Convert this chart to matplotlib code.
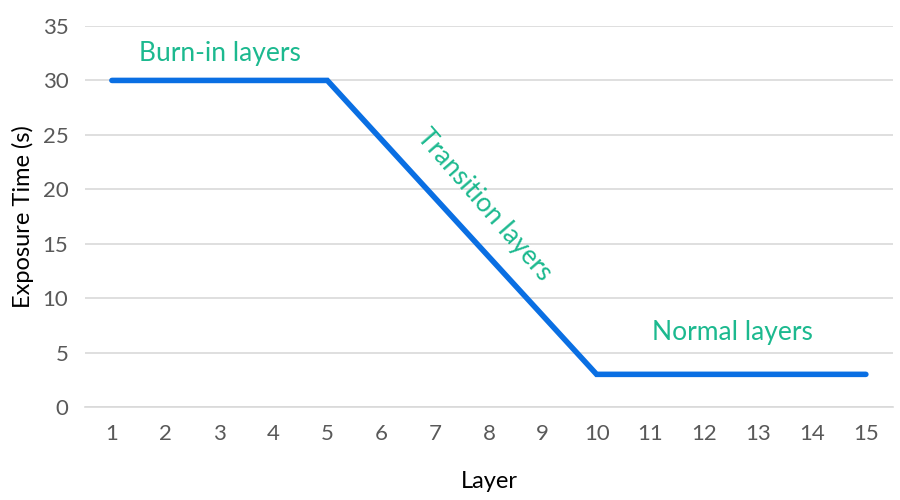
import matplotlib
matplotlib.use("Agg")
import matplotlib.pyplot as plt

### chart data
layers = list(range(1, 16))
exposure = [30, 30, 30, 30, 30, 24.6, 19.2, 13.8, 8.4, 3, 3, 3, 3, 3, 3]
y_ticks = [0, 5, 10, 15, 20, 25, 30, 35]

### colours
LINE = "#0A6FE3"
NOTE = "#1CB98F"
GREY = "#595959"
GRID = "#D9D9D9"

plt.rcParams["font.family"] = ["Lato", "DejaVu Sans"]

fig = plt.figure(figsize=(9, 5), dpi=100)
ax = fig.add_axes([0.0944, 0.186, 0.8976, 0.762])

ax.plot(layers, exposure, color=LINE, lw=4, solid_capstyle="round", solid_joinstyle="miter", zorder=3)

ax.set_xlim(0.5, 15.5)
ax.set_ylim(0, 35)
ax.set_xticks(layers)
ax.set_yticks(y_ticks)
ax.grid(axis="y", color=GRID, lw=1.2)
ax.set_axisbelow(True)
for side in ("top", "right", "left"):
    ax.spines[side].set_visible(False)
ax.spines["bottom"].set_color(GRID)
ax.spines["bottom"].set_linewidth(1.2)
ax.tick_params(length=0, colors=GREY, labelsize=16)
ax.tick_params(axis="x", pad=12)
ax.tick_params(axis="y", pad=12)

ax.set_xlabel("Layer", fontsize=17, color="black", labelpad=20)
ax.set_ylabel("Exposure Time (s)", fontsize=17, color="black", labelpad=6)

### annotations
ax.text(3, 32.5, "Burn-in layers", color=NOTE, fontsize=19, ha="center", va="center")
ax.text(7.92, 18.6, "Transition layers", color=NOTE, fontsize=19, ha="center", va="center",
        rotation=-49, rotation_mode="anchor")
ax.text(12.53, 6.8, "Normal layers", color=NOTE, fontsize=19, ha="center", va="center")

fig.savefig("out.png", dpi=100)
